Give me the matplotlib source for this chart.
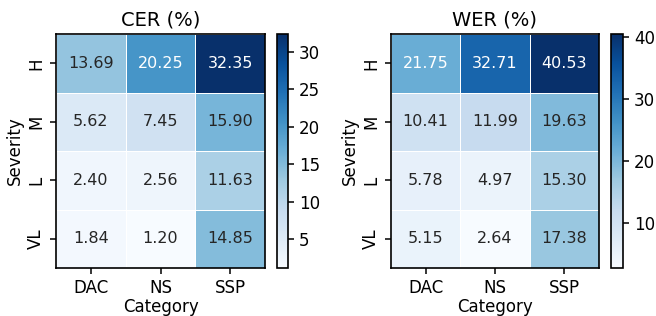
import numpy as np
import matplotlib
matplotlib.use("Agg")
import matplotlib.pyplot as plt
from matplotlib.colors import Normalize

categories = ["DAC", "NS", "SSP"]
severity = ["H", "M", "L", "VL"]

cer = np.array([
    [13.69, 20.25, 32.35],
    [5.62, 7.45, 15.90],
    [2.40, 2.56, 11.63],
    [1.84, 1.20, 14.85],
])
wer = np.array([
    [21.75, 32.71, 40.53],
    [10.41, 11.99, 19.63],
    [5.78, 4.97, 15.30],
    [5.15, 2.64, 17.38],
])

plt.rcParams["axes.linewidth"] = 1.2
plt.rcParams["xtick.major.width"] = 1.1
plt.rcParams["ytick.major.width"] = 1.1
plt.rcParams["xtick.major.size"] = 4.5
plt.rcParams["ytick.major.size"] = 4.5


def text_color(rgba):
    # same rule seaborn uses for annotations
    rgb = np.array(rgba[:3])
    rgb = np.where(rgb <= 0.03928, rgb / 12.92, ((rgb + 0.055) / 1.055) ** 2.4)
    lum = 0.2126 * rgb[0] + 0.7152 * rgb[1] + 0.0722 * rgb[2]
    return "0.15" if lum > 0.408 else "white"


def heatmap(ax, cax, data, title, ticks):
    cmap = plt.get_cmap("Blues")
    norm = Normalize(vmin=data.min(), vmax=data.max())
    mesh = ax.pcolormesh(data, cmap=cmap, norm=norm, edgecolors="white", linewidth=0.6)
    ax.set_xlim(0, data.shape[1])
    ax.set_ylim(data.shape[0], 0)
    for i in range(data.shape[0]):
        for j in range(data.shape[1]):
            v = data[i, j]
            ax.text(j + 0.5, i + 0.5, f"{v:.2f}", ha="center", va="center",
                    fontsize=11.5, color=text_color(cmap(norm(v))))
    ax.set_xticks(np.arange(data.shape[1]) + 0.5)
    ax.set_xticklabels(categories, fontsize=12)
    ax.set_yticks(np.arange(data.shape[0]) + 0.5)
    ax.set_yticklabels(severity, fontsize=12, rotation=90, va="center")
    ax.set_xlabel("Category", fontsize=12, labelpad=1)
    ax.set_ylabel("Severity", fontsize=12, labelpad=2)
    ax.set_title(title, fontsize=14, pad=6)
    cb = plt.colorbar(mesh, cax=cax)
    cb.set_ticks(ticks)
    cb.ax.tick_params(labelsize=12)


fig = plt.figure(figsize=(6.56, 3.16), dpi=100)
W, H = 656, 316

def px(x0, y0, x1, y1):
    return [x0 / W, 1 - y1 / H, (x1 - x0) / W, (y1 - y0) / H]

ax1 = fig.add_axes(px(56, 34, 265, 268))
cax1 = fig.add_axes(px(277, 34, 288, 268))
ax2 = fig.add_axes(px(391, 34, 599, 268))
cax2 = fig.add_axes(px(611, 34, 623, 268))

heatmap(ax1, cax1, cer, "CER (%)", [5, 10, 15, 20, 25, 30])
heatmap(ax2, cax2, wer, "WER (%)", [10, 20, 30, 40])

fig.savefig("out.png", dpi=100)
